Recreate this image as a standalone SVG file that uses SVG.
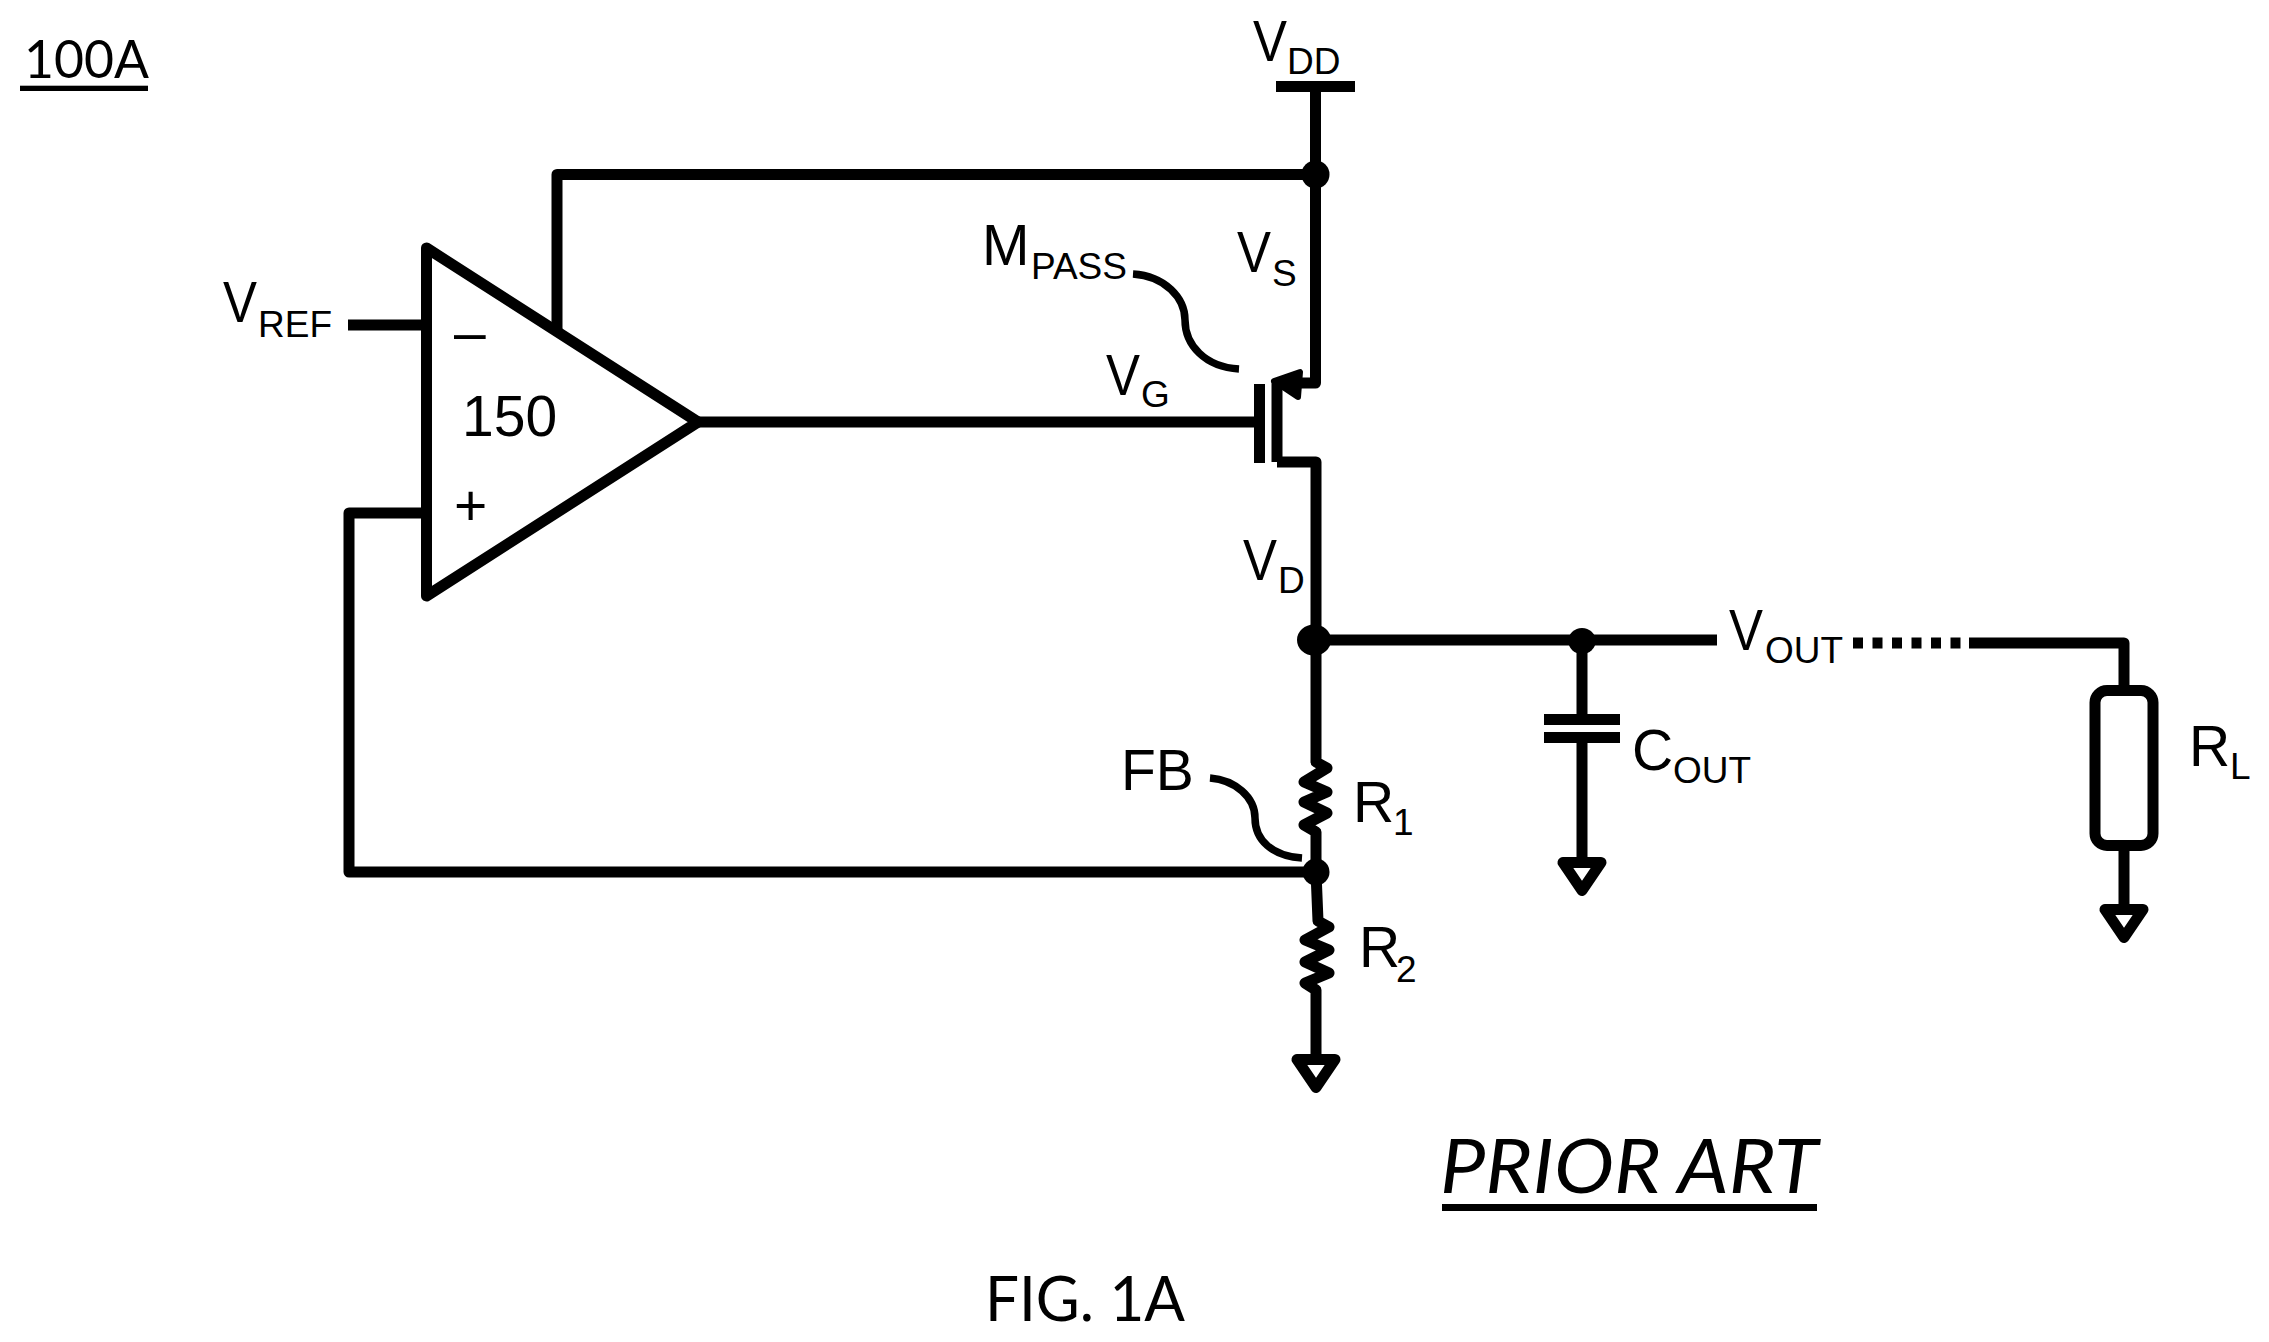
<svg xmlns="http://www.w3.org/2000/svg" width="2269" height="1342" viewBox="0 0 2269 1342">
<style>
text{font-family:"Liberation Sans",Arial,sans-serif;fill:#000}
.m{font-size:57px}
.s{font-size:37px}
.c{font-family:Lato,"Open Sans",sans-serif}
.w{fill:none;stroke:#000;stroke-width:11;stroke-linejoin:round}
.l{fill:none;stroke:#000;stroke-width:7.5}
.b{fill:#000;stroke:none}
</style>
<defs>
<polygon id="gnd" points="-19,5.5 19,5.5 0,33.5" fill="#fff" stroke="#000" stroke-width="11" stroke-linejoin="round"/>
</defs>
<rect width="2269" height="1342" fill="#fff"/>
<g id="connectors">
<path class="w" d="M1315.5 86V174.5M557 330V174.5H1315.5V383H1277M1277 462H1316V640M1316 640H1717"/>
<path class="w" d="M348 325H426M426 513H349V872H1316"/>
<path class="w" d="M698 422H1254"/>
<path class="w" d="M1316 640V762L1327 768L1304 782L1327 792L1304 802L1327 813L1304 825L1316 832V872L1318 921L1329 927L1305 940L1329 950L1305 962L1329 973L1305 983L1316 990V1056"/>
<path class="w" d="M1582 640V714M1582 743V858"/>
<path class="w" d="M1969 643H2124V685M2124 851V905"/>
<path class="w" d="M1853 643H1961" stroke-dasharray="10 9.5"/>
<path class="l" d="M1133 274C1165 276 1185 298 1185 320C1185 345 1205 367 1239 369"/>
<path class="l" d="M1210 778C1235 780 1255 797 1255 818C1255 840 1272 856 1302 858"/>
</g>
<g id="label-100A"><text class="c" x="24" y="78" font-size="52" textLength="125" lengthAdjust="spacingAndGlyphs">100A</text><rect x="20" y="85.7" width="128" height="5.3"/></g>
<g id="vdd"><rect x="1276" y="81" width="79" height="11"/><text class="m" x="1253" y="61" textLength="34" lengthAdjust="spacingAndGlyphs">V</text><text class="s" x="1287" y="74">DD</text></g>
<g id="j-vdd"><circle cx="1315.5" cy="174.5" r="14" class="b"/></g>
<g id="vs"><text class="m" x="1237" y="272" textLength="34" lengthAdjust="spacingAndGlyphs">V</text><text class="s" x="1272" y="286">S</text></g>
<g id="mpass"><text class="m" x="982" y="265">M</text><text class="s" x="1031" y="279">PASS</text></g>
<g id="vg"><text class="m" x="1106" y="395" textLength="34" lengthAdjust="spacingAndGlyphs">V</text><text class="s" x="1141" y="407">G</text></g>
<g id="transistor">
<rect x="1254" y="384" width="11" height="79"/>
<path class="w" d="M1277 380V462"/>
<polygon points="1274,381 1300,372 1298,397" fill="#000" stroke="#000" stroke-width="6" stroke-linejoin="round"/>
</g>
<g id="amp-150">
<polygon class="w" points="426.5,248 698,422 426.5,596" fill="#fff"/>
<text class="m" x="454" y="352">–</text>
<text class="m" x="454" y="525">+</text>
<text class="m" x="462" y="436">150</text>
</g>
<g id="vref"><text class="m" x="223" y="322" textLength="34" lengthAdjust="spacingAndGlyphs">V</text><text class="s" x="258" y="337">REF</text></g>
<g id="vd"><text class="m" x="1243" y="580" textLength="34" lengthAdjust="spacingAndGlyphs">V</text><text class="s" x="1278" y="593">D</text></g>
<g id="j-out"><ellipse cx="1314" cy="640" rx="17" ry="15.5" class="b"/></g>
<g id="j-cout"><ellipse cx="1582" cy="641" rx="13.7" ry="13" class="b"/></g>
<g id="vout"><text class="m" x="1729" y="650" textLength="34" lengthAdjust="spacingAndGlyphs">V</text><text class="s" x="1765" y="663" textLength="78" lengthAdjust="spacingAndGlyphs">OUT</text></g>
<g id="cout"><rect x="1544" y="714" width="76" height="11"/><rect x="1544" y="732" width="76" height="11"/><text class="m" x="1632" y="770">C</text><text class="s" x="1673" y="783" textLength="78" lengthAdjust="spacingAndGlyphs">OUT</text></g>
<g id="gnd-cout"><use href="#gnd" x="1582" y="857"/></g>
<g id="rl"><rect class="w" x="2095" y="690.5" width="58" height="155" rx="12"/><text class="m" x="2189" y="766">R</text><text class="s" x="2230" y="779">L</text></g>
<g id="gnd-rl"><use href="#gnd" x="2124" y="904"/></g>
<g id="fb"><text class="m" x="1121" y="790">FB</text><circle cx="1316" cy="872" r="13.5" class="b"/></g>
<g id="r1"><text class="m" x="1353" y="822">R</text><text class="s" x="1393" y="835">1</text></g>
<g id="r2"><text class="m" x="1359" y="967">R</text><text class="s" x="1396" y="982">2</text></g>
<g id="gnd-r2"><use href="#gnd" x="1316" y="1054"/></g>
<g id="prior-art"><text class="c" x="1440" y="1193" font-size="75" font-style="italic" textLength="378" lengthAdjust="spacingAndGlyphs">PRIOR ART</text><rect x="1442" y="1204" width="375" height="7"/></g>
<g id="fig"><text class="c" x="985" y="1321" font-size="61" textLength="200" lengthAdjust="spacingAndGlyphs">FIG. 1A</text></g>
</svg>
